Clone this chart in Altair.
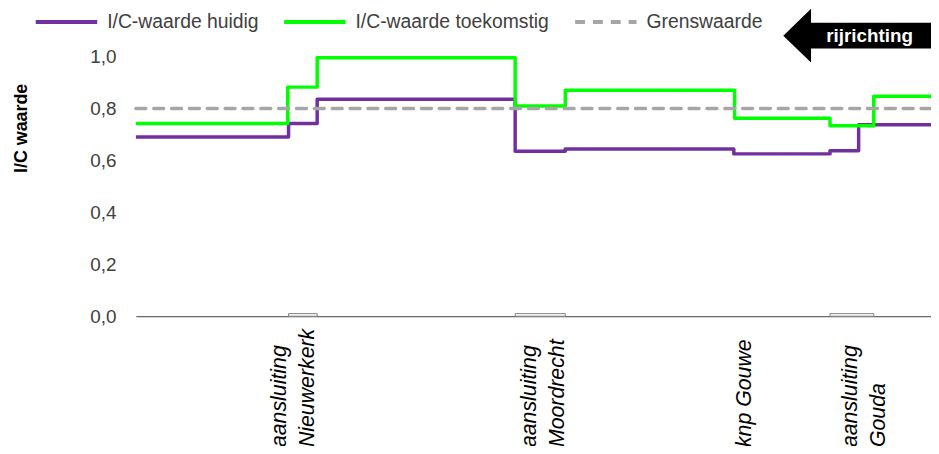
import altair as alt
import pandas as pd

# ---- data ----
series_names = ["I/C-waarde huidig", "I/C-waarde toekomstig", "Grenswaarde"]
series_colors = ["#7030A0", "#00FF00", "#A6A6A6"]

# position along the route (0-100) where each step starts
huidig_pos = [0, 19.2, 22.8, 47.7, 54.0, 75.2, 87.3, 90.9, 100]
huidig_val = [0.69, 0.742, 0.835, 0.635, 0.644, 0.625, 0.637, 0.737, 0.737]

toekomst_pos = [0, 19.1, 22.8, 47.7, 54.0, 75.3, 87.3, 92.8, 100]
toekomst_val = [0.742, 0.882, 0.995, 0.809, 0.870, 0.762, 0.733, 0.847, 0.847]

grens_pos = [0, 100]
grens_val = [0.8, 0.8]

# junction markers on the axis
junction_start = [19.2, 47.7, 87.3]
junction_end = [22.8, 54.0, 92.8]
junction_height = [0.01, 0.01, 0.01]

# location labels
label_pos = [18.1, 49.6, 76.6, 90.0]
label_text = ["aansluiting\nNieuwerkerk", "aansluiting\nMoordrecht", "knp Gouwe", "aansluiting\nGouda"]

y_ticks = [0.0, 0.2, 0.4, 0.6, 0.8, 1.0]

FONT = "Liberation Sans"
TXT = "#404040"

rows = []
for name, xs, ys in [(series_names[0], huidig_pos, huidig_val),
                     (series_names[1], toekomst_pos, toekomst_val),
                     (series_names[2], grens_pos, grens_val)]:
    for x, y in zip(xs, ys):
        rows.append({"series": name, "pos": x, "value": y})
lines_df = pd.DataFrame(rows)

junc_df = pd.DataFrame({"x0": junction_start, "x1": junction_end, "h": junction_height})
lab_df = pd.DataFrame({"pos": label_pos, "text": label_text})
deco_df = pd.DataFrame({"text": ["rijrichting"]})

xscale = alt.Scale(domain=[0, 100], nice=False, zero=False)
yscale = alt.Scale(domain=[0, 1], nice=False)
cscale = alt.Scale(domain=series_names, range=series_colors)
dscale = alt.Scale(domain=series_names, range=[[1, 0], [1, 0], [10, 8]])

leg = alt.Legend(orient="none", legendX=-103, legendY=-68, direction="horizontal",
                 title=None, symbolType="stroke", symbolSize=3844, symbolStrokeWidth=4,
                 labelFontSize=19.5, labelFont=FONT, labelColor=TXT, labelOffset=8,
                 columnPadding=17.5, padding=0, labelLimit=400)

base_x = alt.X("pos:Q", scale=xscale,
               axis=alt.Axis(title=None, labels=False, ticks=False, grid=False,
                             domainColor="#404040", domainWidth=1))
base_y = alt.Y("value:Q", scale=yscale,
               axis=alt.Axis(values=y_ticks, grid=False, ticks=False, domain=False,
                             labelExpr="replace(format(datum.value, '.1f'), '.', ',')",
                             labelFontSize=19, labelFont=FONT, labelColor=TXT, labelPadding=20,
                             title="I/C waarde", titleFont=FONT, titleFontSize=18,
                             titleFontWeight="bold", titleColor="#000000",
                             titleX=-115, titleY=72, titleAngle=270,
                             titleAlign="center", titleBaseline="middle"))

junctions = alt.Chart(junc_df).transform_calculate(zero="0").mark_rect(
    fill="#FFFFFF", stroke="#7F7F7F", strokeWidth=1
).encode(
    x=alt.X("x0:Q", scale=xscale), x2="x1:Q",
    y=alt.Y("zero:Q", scale=yscale), y2="h:Q"
)

main_lines = alt.Chart(lines_df).transform_filter(
    alt.datum.series != "Grenswaarde"
).mark_line(interpolate="step-after", strokeWidth=3.5, strokeJoin="round").encode(
    x=base_x, y=base_y,
    color=alt.Color("series:N", scale=cscale, legend=leg),
    strokeDash=alt.StrokeDash("series:N", scale=dscale, legend=leg),
)

grens_line = alt.Chart(lines_df).transform_filter(
    alt.datum.series == "Grenswaarde"
).mark_line(interpolate="step-after", strokeWidth=3.5, strokeCap="round").encode(
    x=alt.X("pos:Q", scale=xscale), y=alt.Y("value:Q", scale=yscale),
    color=alt.Color("series:N", scale=cscale, legend=leg),
    strokeDash=alt.StrokeDash("series:N", scale=dscale, legend=leg),
)

labels = alt.Chart(lab_df).mark_text(
    angle=270, align="left", baseline="middle", lineBreak="\n", lineHeight=28,
    fontSize=21.5, fontStyle="italic", font=FONT, color="#000000"
).encode(x=alt.X("pos:Q", scale=xscale), y=alt.value(394), text="text:N")

arrow_path = ("M-1,0 L-0.68,-0.309 L-0.68,-0.149 L1,-0.149 L1,0.149 "
              "L-0.68,0.149 L-0.68,0.309 Z")
arrow = alt.Chart(deco_df).mark_point(
    shape=arrow_path, size=30625, filled=True, fill="#000000", opacity=1, strokeWidth=0
).encode(x=alt.value(740.5), y=alt.value(-21))

arrow_text = alt.Chart(deco_df).mark_text(
    fontSize=19, fontWeight="bold", font=FONT, color="#FFFFFF", align="center", baseline="middle"
).encode(x=alt.value(740), y=alt.value(-21), text="text:N")

chart = alt.layer(junctions, main_lines, grens_line, labels, arrow, arrow_text).properties(
    width=802, height=262,
    padding={"left": 129, "top": 47, "right": 0, "bottom": 129},
    autosize=alt.AutoSizeParams(type="none"),
    background="#FFFFFF",
).configure_view(strokeWidth=0)

chart.save("out.html", embed_options={"renderer": "svg", "actions": False})
